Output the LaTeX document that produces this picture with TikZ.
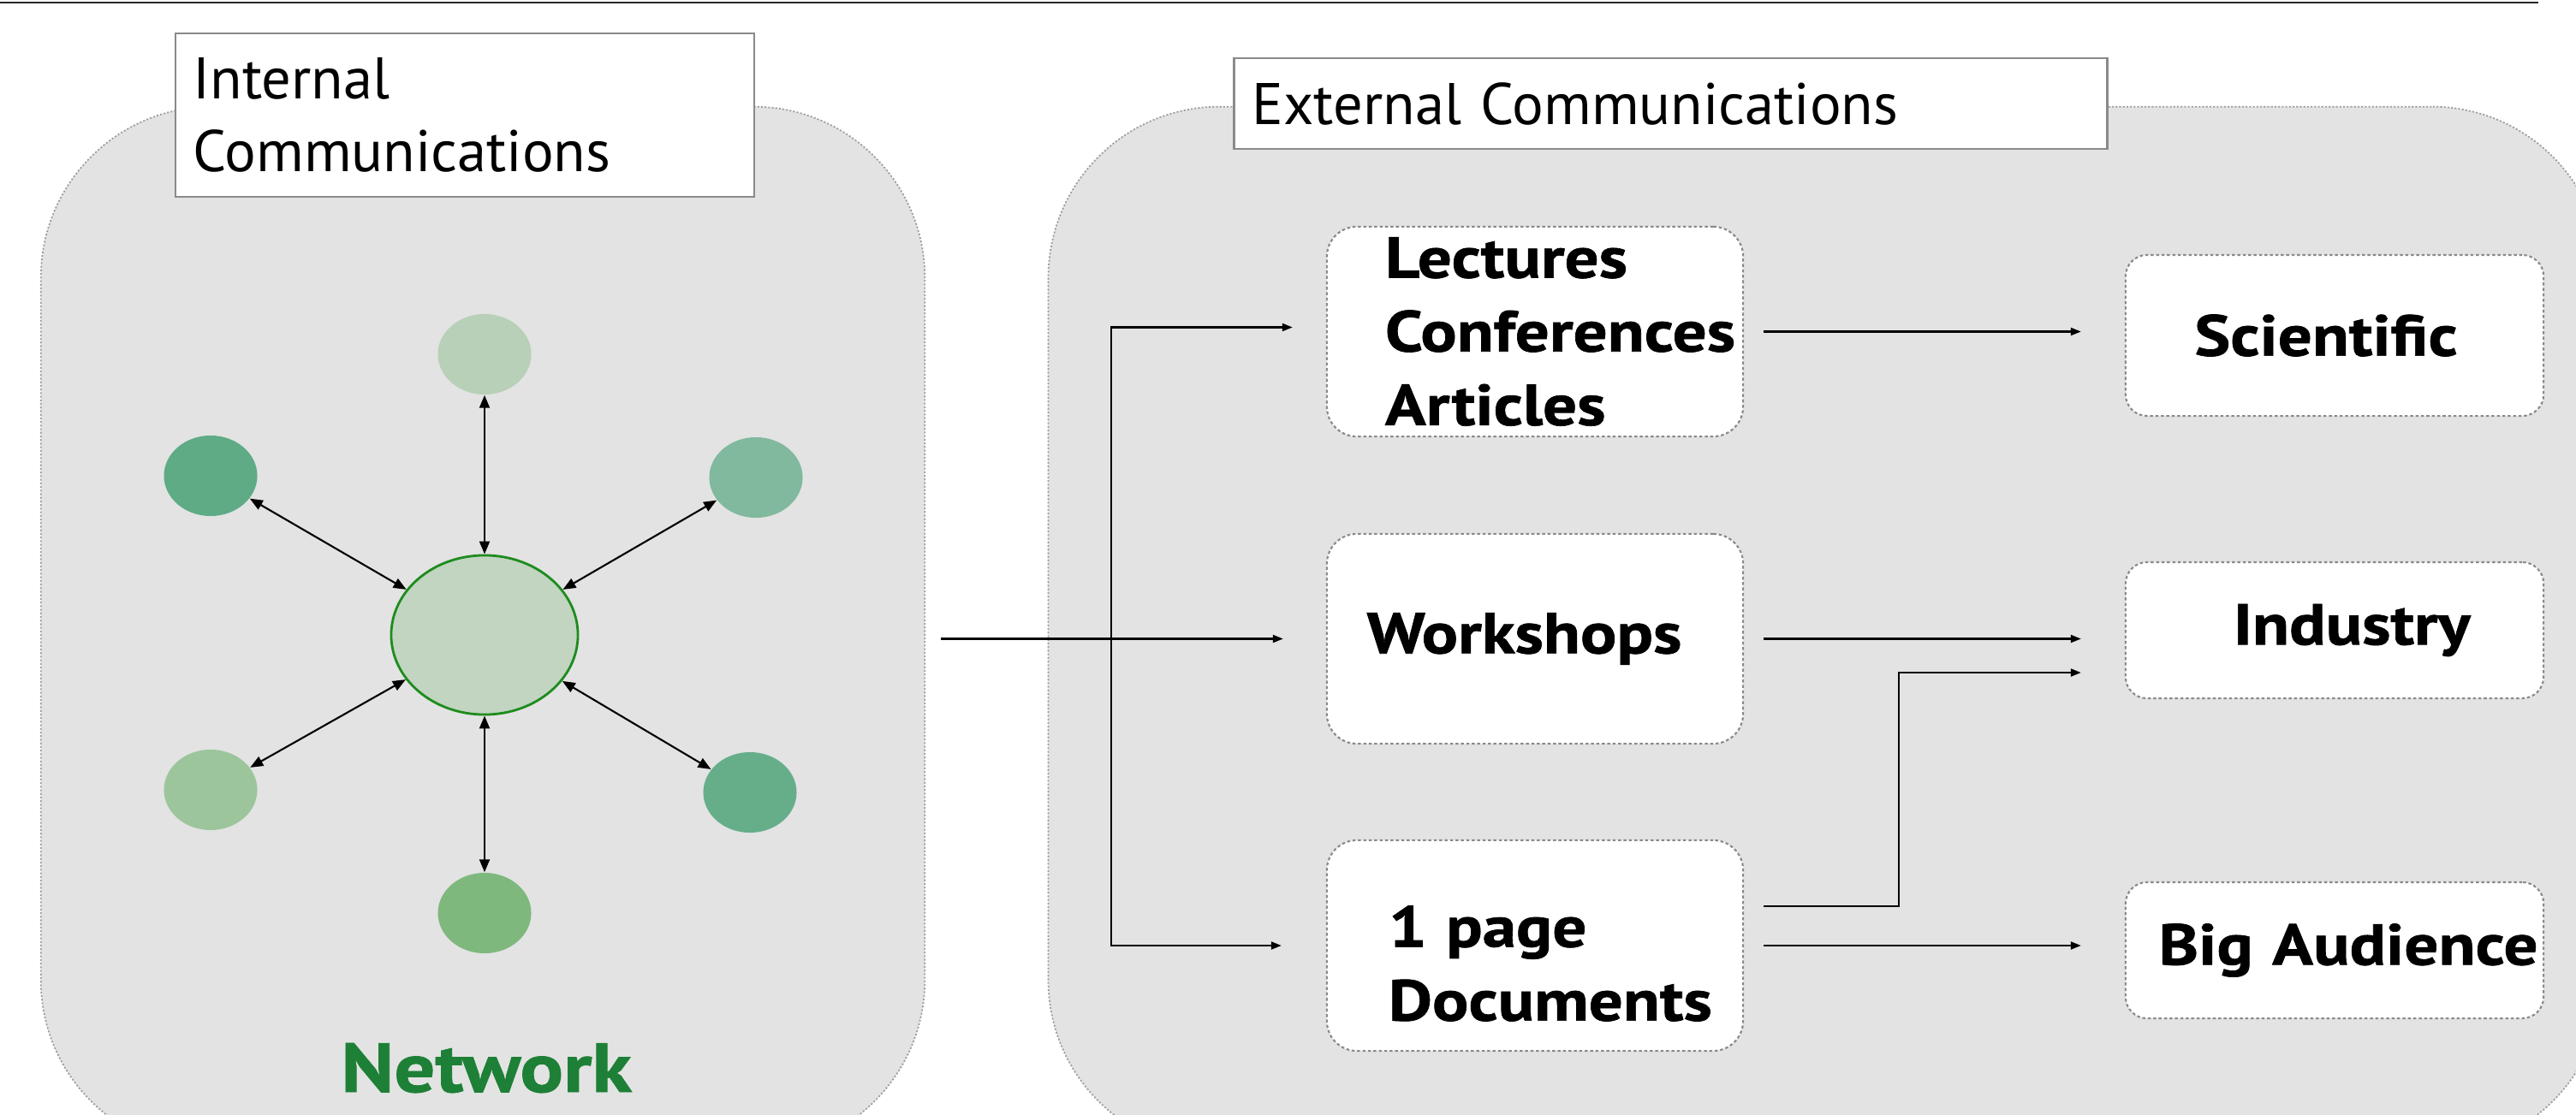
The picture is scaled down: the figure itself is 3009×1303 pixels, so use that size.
\documentclass[tikz,border=0pt]{standalone}
\usepackage{fontspec}
\setmainfont{PT Sans}
\newfontfamily\heavyfont{PT Sans}[FakeStretch=1.17, FakeBold=1]
\usetikzlibrary{arrows.meta,shapes.geometric,calc}
\definecolor{panelfill}{HTML}{E3E3E3}
\definecolor{panelline}{HTML}{9E9E9E}
\definecolor{boxline}{HTML}{8A8A8A}
\definecolor{netgreen}{HTML}{1D8036}
\definecolor{cTop}{HTML}{B7D0B7}
\definecolor{cUL}{HTML}{5EAB86}
\definecolor{cUR}{HTML}{80B99D}
\definecolor{cLL}{HTML}{9CC59C}
\definecolor{cLR}{HTML}{66AE8A}
\definecolor{cBot}{HTML}{7EB87D}
\definecolor{cCen}{HTML}{C1D5C1}
\definecolor{cCenLine}{HTML}{1E8C1E}
\tikzset{
  panel/.style={draw=panelline, fill=panelfill, line width=0.5pt,
    dash pattern=on 0.6pt off 0.6pt, rounded corners=2cm, inner sep=0pt},
  titlebox/.style={draw=boxline, fill=white, line width=0.7pt, inner sep=0pt,
    font=\fontsize{19.5}{24.2}\selectfont, align=left},
  itembox/.style={draw=boxline, fill=white, line width=0.6pt,
    dash pattern=on 1pt off 0.8pt, rounded corners=0.35cm, inner sep=0pt,
    font=\heavyfont\bfseries\fontsize{19.2}{24.5}\selectfont},
  targetbox/.style={itembox, rounded corners=0.25cm},
  sat/.style={ellipse, inner sep=0pt, minimum width=1.09cm, minimum height=0.94cm, draw=none},
  arr/.style={-{Triangle[length=0.12cm,width=0.09cm]}, line width=0.6pt},
  dbl/.style={{Triangle[length=0.15cm,width=0.12cm]}-{Triangle[length=0.15cm,width=0.12cm]}, line width=0.6pt},
}
\begin{document}
\begin{tikzpicture}[x=0.01cm,y=-0.01cm]
\useasboundingbox (0,0) rectangle (3009,1303);
\clip (0,0) rectangle (3009,1303);

% top rule
\draw[line width=0.8pt, black!85] (0,3) -- (2965,3);

% panels
\node[panel, minimum width=10.32cm, minimum height=12.2cm] (internal) at (564,735) {};
\node[panel, minimum width=18.15cm, minimum height=12.2cm] (external) at (2132.5,735) {};

% title boxes
\node[titlebox, minimum width=6.76cm, minimum height=1.91cm, text width=6.34cm, inner xsep=0.21cm] (intitle) at (543,134.5) {Internal\\Communications};
\node[titlebox, minimum width=10.19cm, minimum height=1.06cm, text width=9.77cm, inner xsep=0.21cm] (extitle) at (1951.5,121) {External Communications};

% network
\node[ellipse, draw=cCenLine, fill=cCen, line width=0.8pt, inner sep=0pt, minimum width=2.18cm, minimum height=1.86cm] (hub) at (566,742) {};
\node[sat, fill=cTop] (nT) at (566,414) {};
\node[sat, fill=cUL] (nUL) at (246,556) {};
\node[sat, fill=cUR] (nUR) at (883,558) {};
\node[sat, fill=cLL] (nLL) at (246,923) {};
\node[sat, fill=cLR] (nLR) at (876,926) {};
\node[sat, fill=cBot] (nB) at (566,1067) {};
\foreach \s in {nT,nUL,nUR,nLL,nLR,nB} \draw[dbl] (hub) -- (\s);
\node[font=\heavyfont\bfseries\fontsize{23}{27}\selectfont, text=netgreen, anchor=base] (network) at (568,1276) {Network};

% external items
\node[itembox, minimum width=4.86cm, minimum height=2.45cm, text width=3.50cm, inner xsep=0.68cm, align=left] (lectures) at (1793,387.5) {Lectures\\Conferences\\Articles};
\node[itembox, minimum width=4.86cm, minimum height=2.45cm, text width=4.86cm, align=center] (workshops) at (1793,746.5) {Workshops\hspace*{0.25cm}\mbox{}};
\node[itembox, minimum width=4.86cm, minimum height=2.46cm, text width=3.42cm, inner xsep=0.72cm, align=left] (onepage) at (1793,1105) {\rule{0pt}{0.9cm}1 page\\Documents};

\node[targetbox, minimum width=4.88cm, minimum height=1.88cm, text width=4.88cm, align=center] (scientific) at (2727,392) {Scientific\hspace*{0.2cm}\mbox{}};
\node[targetbox, minimum width=4.88cm, minimum height=1.59cm, text width=4.88cm, align=center] (industry) at (2727,736.5) {\hspace*{0.4cm}Industry};
\node[targetbox, minimum width=4.88cm, minimum height=1.59cm, text width=4.88cm, align=center] (audience) at (2727,1110.5) {\hspace*{0.32cm}Big Audience};

% connectors
\coordinate (split) at (1298,746.5);
\draw[arr, shorten <=0.18cm, shorten >=0.50cm] (internal.east |- workshops.west) -- (workshops.west);
\draw[arr, shorten >=0.39cm] (split) |- ([yshift=0.05cm]lectures.west);
\draw[arr, shorten >=0.52cm] (split) |- (onepage.west);
\draw[arr, shorten <=0.23cm, shorten >=0.51cm] (lectures.east) -- (lectures.east -| scientific.west);
\draw[arr, shorten <=0.23cm, shorten >=0.51cm] (workshops.east) -- (workshops.east -| industry.west);
\draw[arr, shorten <=0.23cm, shorten >=0.51cm] (onepage.east) -- (onepage.east -| audience.west);
\draw[arr, shorten <=0.23cm, shorten >=0.51cm] ([yshift=0.46cm]onepage.east) -- ++(1.81cm,0) |- ([yshift=-0.495cm]industry.west);
\end{tikzpicture}
\end{document}
